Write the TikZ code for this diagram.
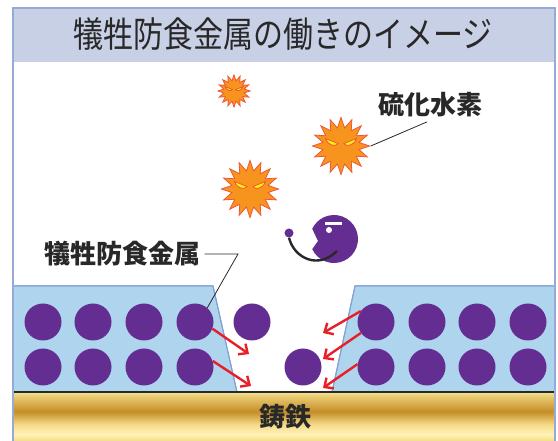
\documentclass[tikz,border=0pt]{standalone}
\usepackage{graphicx}
\usepackage{fontspec}
\newfontfamily\jpfont{Noto Sans CJK JP}
\usetikzlibrary{shapes.geometric, arrows.meta, positioning}
\definecolor{frameBlue}{RGB}{150,170,215}
\definecolor{titleFill}{RGB}{200,208,230}
\definecolor{layerBlue}{RGB}{174,212,238}
\definecolor{layerEdge}{RGB}{130,160,210}
\definecolor{metalPurple}{RGB}{100,45,145}
\definecolor{germOrange}{RGB}{247,148,30}
\definecolor{germEdge}{RGB}{238,85,55}
\definecolor{eyeYellow}{RGB}{255,238,20}
\definecolor{arrowRed}{RGB}{232,30,40}
\definecolor{inkDark}{RGB}{40,40,40}
\definecolor{goldBase}{RGB}{245,222,130}
\definecolor{goldPale}{RGB}{255,243,185}
\definecolor{goldLight}{RGB}{245,218,135}
\definecolor{goldDark}{RGB}{196,142,40}
\definecolor{goldMid}{RGB}{232,200,110}
\definecolor{goldTop}{RGB}{246,226,150}
\pgfdeclareverticalshading{castIron}{100bp}{color(0bp)=(goldBase); color(25bp)=(goldBase);
  color(32bp)=(goldPale); color(42bp)=(goldLight); color(55bp)=(goldDark);
  color(70bp)=(goldMid); color(75bp)=(goldTop); color(100bp)=(goldTop)}
% angry eyes on a germ: node name, size factor
\newcommand{\angryeyes}[2]{%
  \begin{scope}[shift={(#1.center)}, scale=#2]
    \filldraw[fill=eyeYellow, draw=germEdge, line width=0.8]
      (-15.5,-7.5) -- (-3,-2.5) .. controls (-5,1) and (-13,0) .. cycle;
    \filldraw[fill=eyeYellow, draw=germEdge, line width=0.8]
      (15.5,-7.5) -- (3,-2.5) .. controls (5,1) and (13,0) .. cycle;
  \end{scope}}

\begin{document}
\begin{tikzpicture}[x=1pt, y=-1pt,
atom/.style={circle, fill=metalPurple, minimum size=37pt, inner sep=0pt},
germ/.style={star, star points=16, star point ratio=1.55, fill=germOrange,
draw=germEdge, line width=0.8, inner sep=0pt},
layer/.style={fill=layerBlue, draw=layerEdge, line width=1},
label/.style={font=\jpfont\fontsize{26}{26}\selectfont\bfseries, text=inkDark},
leader/.style={draw=inkDark, line width=0.8},
flow/.style={-{Straight Barb[length=7pt, width=13pt]}, line width=2.4, color=arrowRed}]
\useasboundingbox (0,0) rectangle (558,441);
\fill[titleFill] (13,8) rectangle (555,62);
\node[font=\jpfont\fontsize{30}{30}\selectfont, text=inkDark] (title) at (283,34)
    {\scalebox{1}[1.18]{犠牲防食金属の働きのイメージ}};

\fill[layer] (13,286) -- (213,286) -- (237,392) -- (13,392) -- cycle;
\fill[layer] (355,286) -- (555,286) -- (555,392) -- (332,392) -- cycle;
\draw[layerEdge, line width=1] (13,286) -- (213,286) -- (237,392);
\draw[layerEdge, line width=1] (332,392) -- (355,286) -- (555,286);

\shade[shading=castIron] (13,392) rectangle (555,441);
\draw[inkDark, line width=1.5] (13,392) -- (555,392);
\node[label] (iron) at (285,417) {鋳鉄};

\foreach \x [count=\i] in {43,93,144,195}
  \foreach \y [count=\j] in {322,367}
    \node[atom] (l\i-\j) at (\x,\y) {};
\foreach \x [count=\i] in {376,427,477,528}
  \foreach \y [count=\j] in {322,367}
    \node[atom] (r\i-\j) at (\x,\y) {};
\node[atom] (freeA) at (252,322) {};
\node[atom] (freeB) at (303,367) {};

\coordinate (la1) at (249,354);
\coordinate (la2) at (251,386);
\coordinate (ra1) at (323,333);
\coordinate (ra2) at (323,359);
\coordinate (ra3) at (323,388);
\draw[flow] (l4-1.-21) -- (la1);
\draw[flow] (l4-2.19) -- (la2);
\draw[flow] (r1-1.144) -- (ra1);
\draw[flow] (r1-1.216) -- (ra2);
\draw[flow] (r1-2.171) -- (ra3);

\node[germ, minimum size=32pt] (germA) at (234,91) {};
\node[germ, minimum size=57pt] (germB) at (341,146) {};
\node[germ, minimum size=57pt] (germC) at (250,189) {};
\angryeyes{germA}{0.57}
\angryeyes{germB}{1}
\angryeyes{germC}{1}

% pac-man with its tongue
\fill[metalPurple] (334,239) ++(155:24) arc[start angle=155, end angle=-155, radius=24]
    -- (318,241) -- cycle;
\draw[white, line width=2.5] (325,223.5) -- (342,223.5);
\fill[white] (329,230) circle (3);
\node[atom, minimum size=9pt] (ball) at (289,233) {};
\draw[inkDark, line width=2.4] (ball.south) .. controls (294,258) and (318,270) .. (337,251);

\node[label] (h2s) at (430,105) {硫化水素};
\draw[leader] (h2s.south) ++(-3,1) -- (germB.east);
\node[label] (sac) at (123,254) {犠牲防食金属};
\coordinate (bend) at (238,254);
\draw[leader] (sac.east) -- (bend) -- (l4-1.49);

\draw[frameBlue, line width=1.5] (13,441) -- (13,8) -- (555,8) -- (555,441);
\end{tikzpicture}
\end{document}
